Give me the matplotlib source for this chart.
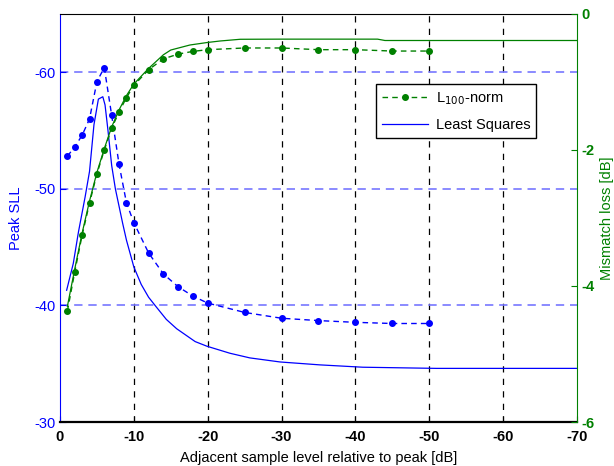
"""Peak SLL and mismatch loss vs adjacent sample level (L100-norm vs least squares)."""

import matplotlib

matplotlib.use("Agg")
from matplotlib import pyplot as plt  # noqa: E402
from matplotlib.lines import Line2D  # noqa: E402

plt.rcParams["font.family"] = ["Liberation Sans", "DejaVu Sans"]

_BLUE = "#0000ff"
_GREEN = "#008000"
_GRID_BLUE = "#7777ff"

# L100-norm samples
l100_x = [-1, -2, -3, -4, -5, -6, -7, -8, -9, -10, -12, -14, -16, -18, -20,
          -25, -30, -35, -40, -45, -50]
l100_sll = [-52.8, -53.6, -54.6, -56.0, -59.2, -60.4, -56.3, -52.1, -48.8,
            -47.1, -44.5, -42.7, -41.6, -40.8, -40.2, -39.4, -38.9, -38.7,
            -38.55, -38.45, -38.45]
l100_loss = [-4.37, -3.79, -3.25, -2.78, -2.35, -2.0, -1.68, -1.44, -1.23,
             -1.05, -0.82, -0.66, -0.59, -0.55, -0.525, -0.5, -0.5, -0.525,
             -0.525, -0.545, -0.545]

# Least squares curves
ls_sll_x = [-0.9, -1.8, -2.5, -3.4, -4.0, -4.6, -5.2, -5.8, -6.1, -6.5, -7.0,
            -7.5, -8.0, -8.5, -9.0, -10.0, -11.0, -12.0, -13.0, -14.4, -15.8,
            -18.3, -19.9, -23, -25.7, -29.8, -35.2, -41, -51, -70]
ls_sll = [-41.3, -43.6, -46.3, -49.3, -51.5, -55.5, -57.7, -57.9, -57.2, -55.0,
          -52.0, -50.0, -48.5, -47.0, -45.6, -43.3, -41.8, -40.7, -39.9, -38.8,
          -38.0, -36.9, -36.5, -35.9, -35.5, -35.15, -34.9, -34.7, -34.6, -34.6]
ls_loss_x = [-1, -2, -3, -4, -5, -6, -7, -8, -9, -10, -12, -14, -15, -17.6,
             -19.9, -21.7, -24.4, -30, -43, -44, -70]
ls_loss = [-4.3, -3.75, -3.22, -2.75, -2.33, -1.98, -1.66, -1.41, -1.2, -1.03,
           -0.8, -0.6, -0.53, -0.456, -0.42, -0.397, -0.372, -0.37, -0.37,
           -0.39, -0.39]

x_ticks = [0, -10, -20, -30, -40, -50, -60, -70]
sll_ticks = [-30, -40, -50, -60]
loss_ticks = [0, -2, -4, -6]

fig = plt.figure(figsize=(6.14, 4.66), dpi=100, facecolor="white")
ax = fig.add_axes([0.0977, 0.0944, 0.8420, 0.8756])
ax2 = ax.twinx()

dash = (0, (4, 3))

# grid
for gx in x_ticks[1:-1]:
    ax.axvline(gx, color="black", linestyle=(0, (5, 5)), linewidth=0.9, zorder=0)
for gy in sll_ticks[1:]:
    ax.axhline(gy, color=_GRID_BLUE, linestyle=(0, (5, 3.5)), linewidth=1.2, zorder=0)

ax.plot(l100_x, l100_sll, color=_BLUE, linestyle=dash, linewidth=1.0,
        marker="o", markersize=4)
ax.plot(ls_sll_x, ls_sll, color=_BLUE, linewidth=0.9)

ax2.plot(l100_x, l100_loss, color=_GREEN, linestyle=dash, linewidth=1.0,
         marker="o", markersize=4)
ax2.plot(ls_loss_x, ls_loss, color=_GREEN, linewidth=0.9)

ax.set_xlim(0, -70)
ax.set_ylim(-30, -65)
ax2.set_ylim(-6, 0)

ax.set_xticks(x_ticks)
ax.set_xticklabels([str(v) for v in x_ticks], fontweight="bold", fontsize=10.5)
ax.set_yticks(sll_ticks)
ax.set_yticklabels([str(v) for v in sll_ticks], color=_BLUE, fontsize=10.5)
ax2.set_yticks(loss_ticks)
ax2.set_yticklabels([str(v) for v in loss_ticks], color=_GREEN,
                    fontweight="bold", fontsize=10.5)

ax.tick_params(axis="x", direction="in", length=4, pad=6, colors="black")
ax.tick_params(axis="y", direction="in", length=4, pad=3, colors=_BLUE)
ax2.tick_params(axis="y", direction="in", length=4, pad=3, colors=_GREEN)

ax.set_xlabel("Adjacent sample level relative to peak [dB]", fontsize=10.5,
              labelpad=5)
ax.set_ylabel("Peak SLL", color=_BLUE, fontsize=10.5, labelpad=8)
ax2.set_ylabel("Mismatch loss [dB]", color=_GREEN, fontsize=10.5, labelpad=4)

ax.spines["left"].set_color(_BLUE)
ax.spines["right"].set_visible(False)
ax.spines["bottom"].set_linewidth(1.6)
ax2.spines["left"].set_visible(False)
ax2.spines["top"].set_visible(False)
ax2.spines["bottom"].set_visible(False)
ax2.spines["right"].set_color(_GREEN)

handles = [
    Line2D([], [], color=_GREEN, linestyle=dash, linewidth=1.0, marker="o",
           markersize=4),
    Line2D([], [], color=_BLUE, linewidth=0.9),
]
leg = ax2.legend(handles, ["L$_{100}$-norm", "Least Squares"],
                 loc="upper right", bbox_to_anchor=(0.921, 0.828),
                 borderaxespad=0, fancybox=False, framealpha=1,
                 edgecolor="black", fontsize=10.5, handlelength=3.2,
                 handletextpad=0.5, labelspacing=0.8)
leg.get_frame().set_linewidth(1.0)

fig.savefig("out.png", dpi=100, facecolor="white")
